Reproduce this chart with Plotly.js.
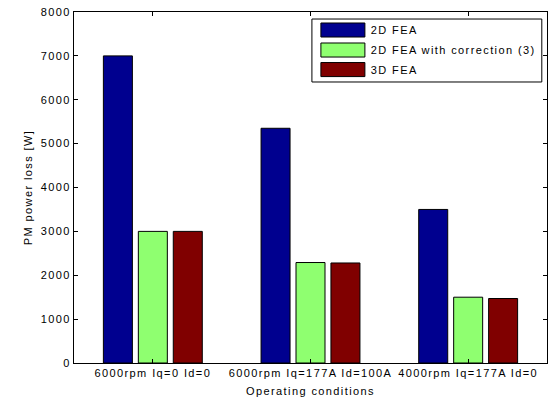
<!DOCTYPE html>
<html>
<head>
<meta charset="utf-8">
<script src="https://cdn.plot.ly/plotly-3.0.1.min.js"></script>
<style>
  html, body { margin: 0; padding: 0; background: #fff; }
  #chart { width: 550px; height: 400px; }
  #chart .main-svg text { letter-spacing: 1.4px; }
</style>
</head>
<body>
<div id="chart"></div>
<script>
const categories = ["6000rpm Iq=0 Id=0", "6000rpm Iq=177A Id=100A", "4000rpm Iq=177A Id=0"];
const seriesNames = ["2D FEA", "2D FEA with correction (3)", "3D FEA"];
const fea2d = [7000, 5350, 3500];
const fea2dCorrected = [3000, 2290, 1500];
const fea3d = [3000, 2280, 1470];
const yTicks = [0, 1000, 2000, 3000, 4000, 5000, 6000, 7000, 8000];

const colors = ["#00008F", "#8FFF70", "#800000"];
const seriesValues = [fea2d, fea2dCorrected, fea3d];

const LS = 1.4;            // letter spacing applied by CSS
const plotWidthPx = 473;   // 550 - margins
const font = {family: "Liberation Sans, Arial, sans-serif", size: 11, color: "#000"};

const traces = seriesValues.map((vals, i) => ({
  type: "bar",
  name: seriesNames[i],
  x: categories,
  y: vals,
  marker: {color: colors[i], line: {color: "#000", width: 1}},
  showlegend: false,
  hoverinfo: "skip"
}));

// custom MATLAB-style legend (paper coordinates)
const shapes = [{
  type: "rect", xref: "paper", yref: "paper",
  x0: 0.503, x1: 0.989, y0: 0.8006, y1: 0.980,
  line: {color: "#000", width: 1}, fillcolor: "#fff"
}];
const annotations = [];
const entryY = [0.9487, 0.8917, 0.836];
seriesNames.forEach((nm, i) => {
  shapes.push({
    type: "rect", xref: "paper", yref: "paper",
    x0: 0.522, x1: 0.615, y0: entryY[i] - 0.02, y1: entryY[i] + 0.02,
    line: {color: "#000", width: 1}, fillcolor: colors[i]
  });
  annotations.push({
    xref: "paper", yref: "paper",
    x: 0.6237 + (nm.length * LS / 2) / plotWidthPx, y: entryY[i],
    xanchor: "left", yanchor: "middle", showarrow: false,
    text: nm, font: font
  });
});

const layout = {
  width: 550, height: 400,
  margin: {l: 74, r: 3, t: 12, b: 37},
  paper_bgcolor: "#fff", plot_bgcolor: "#fff",
  font: font,
  barmode: "group",
  bargap: 0.335,
  bargroupgap: 0.17,
  showlegend: false,
  xaxis: {
    type: "category",
    range: [-0.5, 2.5],
    showline: true, mirror: "ticks", linecolor: "#000", linewidth: 1,
    ticks: "inside", ticklen: 4, tickcolor: "#000",
    showgrid: false, zeroline: false,
    tickfont: font,
    title: {text: "Operating conditions", font: font, standoff: 9}
  },
  yaxis: {
    range: [0, 8000],
    tickvals: yTicks,
    ticktext: yTicks.map(String),
    showline: true, mirror: "ticks", linecolor: "#000", linewidth: 1,
    ticks: "inside", ticklen: 4, tickcolor: "#000",
    showgrid: false, zeroline: false,
    tickfont: font,
    title: {text: "PM power loss [W]", font: font, standoff: 11}
  },
  shapes: shapes,
  annotations: annotations
};

Plotly.newPlot("chart", traces, layout, {displayModeBar: false, staticPlot: true});
</script>
</body>
</html>
